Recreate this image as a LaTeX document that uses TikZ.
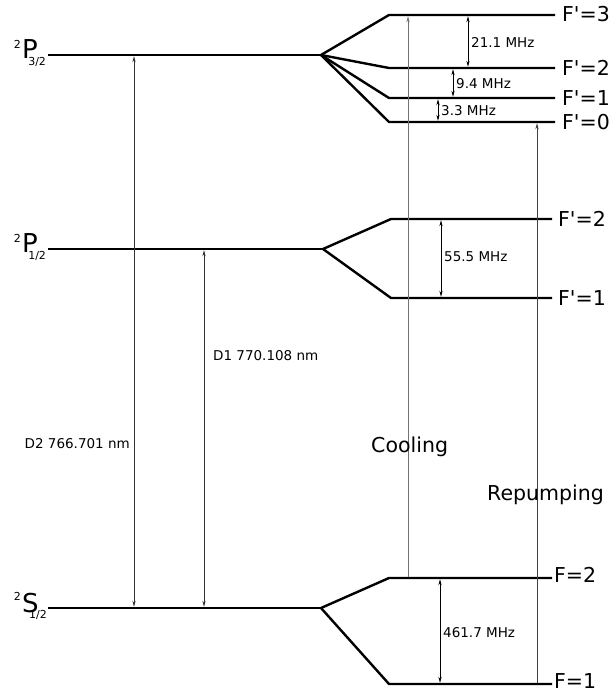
\documentclass[tikz,border=0pt]{standalone}
\usepackage{fontspec}
\setmainfont{DejaVu Sans}
\usetikzlibrary{arrows.meta}
\tikzset{
  level/.style={line width=2.4pt},
  trans/.style={line width=0.7pt, black!80, shorten >=1.2pt, shorten <=1.2pt},
  small/.style={font=\fontsize{13.5}{14}\selectfont, inner sep=0pt},
  big/.style={font=\fontsize{20.5}{22}\selectfont, inner sep=0pt},
  termletter/.style={font=\fontsize{26}{26}\selectfont, inner sep=0pt},
  termidx/.style={font=\fontsize{11}{11}\selectfont, inner sep=0pt},
  tip/.tip={Stealth[length=6pt,width=3.2pt]}
}
\newcommand{\Fp}[1]{F\textquotesingle=#1}
\begin{document}
\begin{tikzpicture}[x=1pt,y=-1pt]
\useasboundingbox (0,0) rectangle (611,692);
% fine structure levels
\coordinate (P3a) at (48,55);  \coordinate (P3f) at (321,55);
\coordinate (P1a) at (48,249); \coordinate (P1f) at (323,249);
\coordinate (Sa)  at (48,608); \coordinate (Sf)  at (321,608);
% hyperfine levels
\coordinate (F3a) at (389,15);  \coordinate (F3b) at (555,15);
\coordinate (F2a) at (389,68);  \coordinate (F2b) at (555,68);
\coordinate (F1a) at (389,98);  \coordinate (F1b) at (555,98);
\coordinate (F0a) at (389,122); \coordinate (F0b) at (555,122);
\coordinate (G2a) at (391,219); \coordinate (G2b) at (552,219);
\coordinate (G1a) at (391,298); \coordinate (G1b) at (552,298);
\coordinate (S2a) at (389,578); \coordinate (S2b) at (552,578);
\coordinate (S1a) at (389,684); \coordinate (S1b) at (552,684);
\draw[level] (P3a) -- (P3f);
\draw[level] (P1a) -- (P1f);
\draw[level] (Sa) -- (Sf);
\foreach \f in {F3,F2,F1,F0} \draw[level] (P3f) -- (\f a) -- (\f b);
\foreach \f in {G2,G1} \draw[level] (P1f) -- (\f a) -- (\f b);
\foreach \f in {S2,S1} \draw[level] (Sf) -- (\f a) -- (\f b);
% term labels
\foreach \t/\l/\j/\y in {tP3/P/3\slash 2/55, tP1/P/1\slash 2/249, tS/S/1\slash 2/608} {
  \node[termletter, anchor=base west] (\t) at (22,\y+4) {\l};
  \node[termidx, anchor=north east] (\t sup) at ([xshift=-1pt]\t.north west) {2};
  \node[termidx, anchor=north west] (\t sub) at ([xshift=-10pt,yshift=2pt]\t.base east) {\j};
}
\node[big, anchor=west] (lF3) at (562,14) {\Fp{3}};
\node[big, anchor=west] (lF2) at (562,68) {\Fp{2}};
\node[big, anchor=west] (lF1) at (562,98) {\Fp{1}};
\node[big, anchor=west] (lF0) at (562,122) {\Fp{0}};
\node[big, anchor=west] (lG2) at (558,219) {\Fp{2}};
\node[big, anchor=west] (lG1) at (558,298) {\Fp{1}};
\node[big, anchor=west] (lS2) at (554,575) {F=2};
\node[big, anchor=west] (lS1) at (554,681) {F=1};
% optical transitions
\coordinate (d2t) at (134,55);  \coordinate (d2b) at (134,608);
\coordinate (d1t) at (204,249); \coordinate (d1b) at (204,608);
\coordinate (ct) at (408,15);   \coordinate (cb) at (408,578);
\coordinate (rt) at (537,122);  \coordinate (rb) at (537,684);
\draw[trans, tip-tip] (d2t) -- (d2b);
\draw[trans, tip-tip] (d1t) -- (d1b);
\draw[trans, black!55, -tip] (cb) -- (ct);
\draw[trans, black!75, -tip] (rb) -- (rt);
\node[small, anchor=east] (lD2) at (130,444) {D2 766.701 nm};
\node[small, anchor=west] (lD1) at (213,356) {D1 770.108 nm};
\node[big, anchor=west] (lC) at (371,447) {Cooling};
\node[big, anchor=west] (lR) at (487,495) {Repumping};
% hyperfine splittings
\coordinate (h1t) at (468,15);  \coordinate (h1b) at (468,68);
\coordinate (h2t) at (453,68);  \coordinate (h2b) at (453,98);
\coordinate (h3t) at (438,98);  \coordinate (h3b) at (438,122);
\coordinate (h4t) at (441,219); \coordinate (h4b) at (441,298);
\coordinate (h5t) at (440,578); \coordinate (h5b) at (440,684);
\foreach \h in {h1,h2,h3,h4,h5} \draw[trans, black, tip-tip] (\h t) -- (\h b);
\node[small, anchor=west] (l211) at (471,42) {21.1 MHz};
\node[small, anchor=west] (l94)  at (456,84) {9.4 MHz};
\node[small, anchor=west] (l33)  at (441,111) {3.3 MHz};
\node[small, anchor=west] (l555) at (444,257) {55.5 MHz};
\node[small, anchor=west] (l4617) at (443,633) {461.7 MHz};
\end{tikzpicture}
\end{document}
